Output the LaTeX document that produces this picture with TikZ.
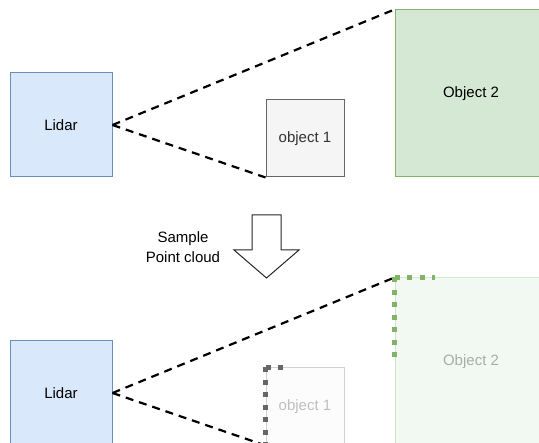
\documentclass[tikz,border=0pt]{standalone}
\usepackage{fontspec}
\setmainfont{Liberation Sans}
\definecolor{lidarfill}{HTML}{DAE8FC}
\definecolor{lidardraw}{HTML}{6C8EBF}
\definecolor{objfill}{HTML}{F5F5F5}
\definecolor{objdraw}{HTML}{666666}
\definecolor{bigfill}{HTML}{D5E8D4}
\definecolor{bigdraw}{HTML}{82B366}
\begin{document}
\begin{tikzpicture}[x=1pt,y=-1pt,
    box/.style={draw, line width=1pt, inner sep=0pt, font=\fontsize{15}{18}\selectfont},
    lidarbox/.style={box, draw=lidardraw, fill=lidarfill, minimum width=102pt, minimum height=104pt},
    smallbox/.style={box, draw=objdraw, fill=objfill, text=black!80, minimum width=78pt, minimum height=77pt},
    bigbox/.style={box, draw=bigdraw, fill=bigfill, minimum width=152pt, minimum height=167pt},
    ray/.style={line width=2.2pt, dash pattern=on 8pt off 6pt},
    scan/.style={line width=5pt, dash pattern=on 5pt off 7.5pt}]
    \clip (0,0) rectangle (539,443);
    \node[lidarbox] (lidar) at (61,125) {Lidar};
    \node[smallbox] (obj1) at (305,138.5) {object 1};
    \node[bigbox] (obj2) at (471,93.5) {Object 2};
    \draw[ray] (lidar.east) -- (obj2.north west);
    \draw[ray] (lidar.east) -- (obj1.south west);
    \node[align=center, font=\fontsize{15}{20}\selectfont] (sample) at (183,247) {Sample\\Point cloud};
    \draw[line width=1pt, fill=white, draw=black!85] (252,215) -- (281,215) -- (281,250) -- (299,250)
        -- (266.5,278) -- (234,250) -- (252,250) -- cycle;
    \node[lidarbox] (lidarb) at (61,393) {Lidar};
    \node[smallbox, opacity=.3] (obj1b) at (305,406.5) {object 1};
    \node[bigbox, opacity=.3] (obj2b) at (471,361.5) {Object 2};
    \draw[ray] (lidarb.east) -- (obj2b.north west);
    \draw[ray] (lidarb.east) -- (obj1b.south west);
    \draw[scan, draw=bigdraw] (obj2b.north west) -- ++(0,85);
    \draw[scan, draw=bigdraw] (obj2b.north west) -- ++(40,0);
    \draw[scan, draw=objdraw] (obj1b.north west) -- ++(0,80);
    \draw[scan, draw=objdraw] (obj1b.north west) -- ++(20,0);
\end{tikzpicture}
\end{document}
